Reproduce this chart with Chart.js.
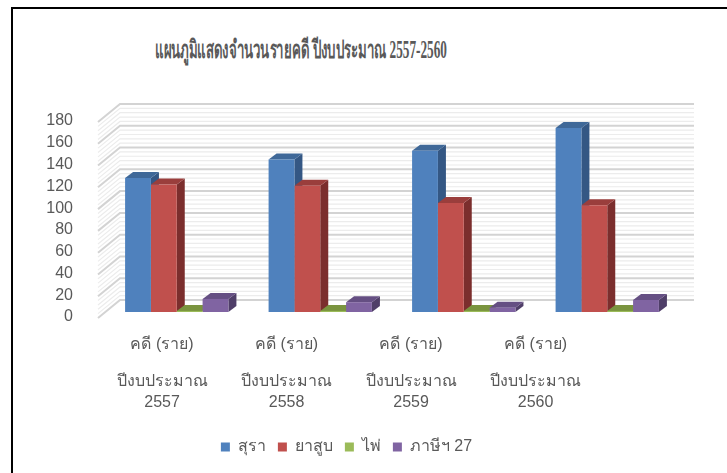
<!DOCTYPE html>
<html>
<head>
<meta charset="utf-8">
<script src="https://cdn.jsdelivr.net/npm/chart.js@4/dist/chart.umd.min.js"></script>
<style>
  html, body { margin: 0; padding: 0; background: #fff; overflow: hidden; }
  #frame { position: absolute; left: 11px; top: 7px; width: 900px; height: 700px;
           border-left: 2px solid #000; border-top: 2px solid #000; }
  #title { position: absolute; left: 0; width: 602px; top: 29px; text-align: center;
           font-family: "Liberation Serif", "DejaVu Serif", serif; font-weight: bold;
           font-size: 25px; color: #595959; white-space: nowrap; transform: scaleX(0.53); transform-origin: 301px 0; }
  #wrap { position: absolute; left: 0; top: 0; width: 727px; height: 473px; }
</style>
</head>
<body>
<div id="frame"></div>
<div id="title">แผนภูมิแสดงจำนวนรายคดี ปีงบประมาณ 2557-2560</div>
<div id="wrap"><canvas id="c" width="727" height="473"></canvas></div>
<script>
const categories = ["2557", "2558", "2559", "2560"];
const topLabel = "คดี (ราย)";
const yearPrefix = "ปีงบประมาณ";
const seriesNames = ["สุรา", "ยาสูบ", "ไพ่", "ภาษีฯ 27"];
const suraValues = [123, 140, 148, 169];
const yasubValues = [117, 116, 100, 98];
const paiValues = [1, 1, 1, 1];
const phasiValues = [12, 9, 4, 11];
const yTicks = [0, 20, 40, 60, 80, 100, 120, 140, 160, 180];

const frontColors = ["#4f81bd", "#c0504d", "#9bbb59", "#8064a2"];
const topColors = ["#3f6898", "#9a3e3c", "#7a943f", "#654f83"];
const sideColors = ["#345784", "#7b2e2d", "#637a31", "#4f3e68"];

const DX = 8, DY = 6;

const threeD = {
  id: 'threeD',
  beforeDatasetsDraw(chart) {
    const ctx = chart.ctx;
    const ys = chart.scales.y;
    const area = chart.chartArea;
    const backL = area.left + 15, backR = area.right + 15;
    ctx.save();
    for (let v = 0; v <= 180; v += 4) {
      const major = v % 20 === 0;
      const yb = ys.getPixelForValue(v) - 12;
      ctx.strokeStyle = major ? "#d3d3d3" : "#ececec";
      ctx.lineWidth = major ? 2 : 1.2;
      ctx.beginPath();
      ctx.moveTo(area.left - 7, yb + 18);
      ctx.lineTo(backL, yb);
      ctx.lineTo(backR, yb);
      ctx.stroke();
    }
    chart.data.datasets.forEach((ds, di) => {
      const meta = chart.getDatasetMeta(di);
      meta.data.forEach(el => {
        const p = el.getProps(['x', 'y', 'base', 'width'], true);
        const l = p.x - p.width / 2, r = p.x + p.width / 2;
        ctx.fillStyle = sideColors[di];
        ctx.beginPath();
        ctx.moveTo(r, p.y);
        ctx.lineTo(r + DX, p.y - DY);
        ctx.lineTo(r + DX, p.base - DY);
        ctx.lineTo(r, p.base);
        ctx.closePath();
        ctx.fill();
        ctx.fillStyle = topColors[di];
        ctx.beginPath();
        ctx.moveTo(l, p.y);
        ctx.lineTo(l + DX, p.y - DY);
        ctx.lineTo(r + DX, p.y - DY);
        ctx.lineTo(r, p.y);
        ctx.closePath();
        ctx.fill();
      });
    });
    ctx.restore();
  }
};

const LMIN = -0.458, LMAX = 4.152;
const labelFont = { family: "'Liberation Sans', 'Noto Sans', sans-serif", size: 16 };

const chart = new Chart(document.getElementById('c'), {
  type: 'bar',
  data: {
    labels: categories,
    datasets: [
      { label: seriesNames[0], data: suraValues, backgroundColor: frontColors[0] },
      { label: seriesNames[1], data: yasubValues, backgroundColor: frontColors[1] },
      { label: seriesNames[2], data: paiValues, backgroundColor: frontColors[2] },
      { label: seriesNames[3], data: phasiValues, backgroundColor: frontColors[3] }
    ]
  },
  options: {
    responsive: false,
    animation: false,
    devicePixelRatio: 1,
    layout: { padding: { left: 14, right: 48, top: 116, bottom: 8 } },
    datasets: { bar: { categoryPercentage: 0.72, barPercentage: 1, borderWidth: 0 } },
    scales: {
      x: { display: false },
      x2: {
        type: 'linear', position: 'bottom', min: LMIN, max: LMAX, weight: 0, offset: false,
        grid: { display: false }, border: { display: false },
        afterBuildTicks: s => { s.ticks = categories.map((c, i) => ({ value: i })); },
        afterFit: s => { s.height = 45; },
        ticks: { autoSkip: false, maxRotation: 0, padding: 15, color: "#595959", font: labelFont,
                 callback: () => topLabel }
      },
      x3: {
        type: 'linear', position: 'bottom', min: LMIN, max: LMAX, weight: 1, offset: false,
        grid: { display: false }, border: { display: false },
        afterBuildTicks: s => { s.ticks = categories.map((c, i) => ({ value: i })); },
        afterFit: s => { s.height = 70; },
        ticks: { autoSkip: false, maxRotation: 0, padding: 6, color: "#595959",
                 font: Object.assign({ lineHeight: 1.3 }, labelFont),
                 callback: (v) => [yearPrefix, categories[Math.round(v)]] }
      },
      y: {
        min: 0, max: 180,
        afterBuildTicks: s => { s.ticks = yTicks.map(v => ({ value: v })); },
        afterFit: s => { s.width = 91; },
        grid: { display: false }, border: { display: false },
        ticks: { autoSkip: false, padding: 24, labelOffset: 5, color: "#595959", font: labelFont }
      }
    },
    plugins: {
      legend: {
        position: 'bottom',
        labels: { boxWidth: 9, boxHeight: 9, padding: 12, color: "#595959", font: labelFont }
      },
      tooltip: { enabled: false },
      title: { display: false }
    }
  },
  plugins: [threeD]
});
</script>
</body>
</html>
